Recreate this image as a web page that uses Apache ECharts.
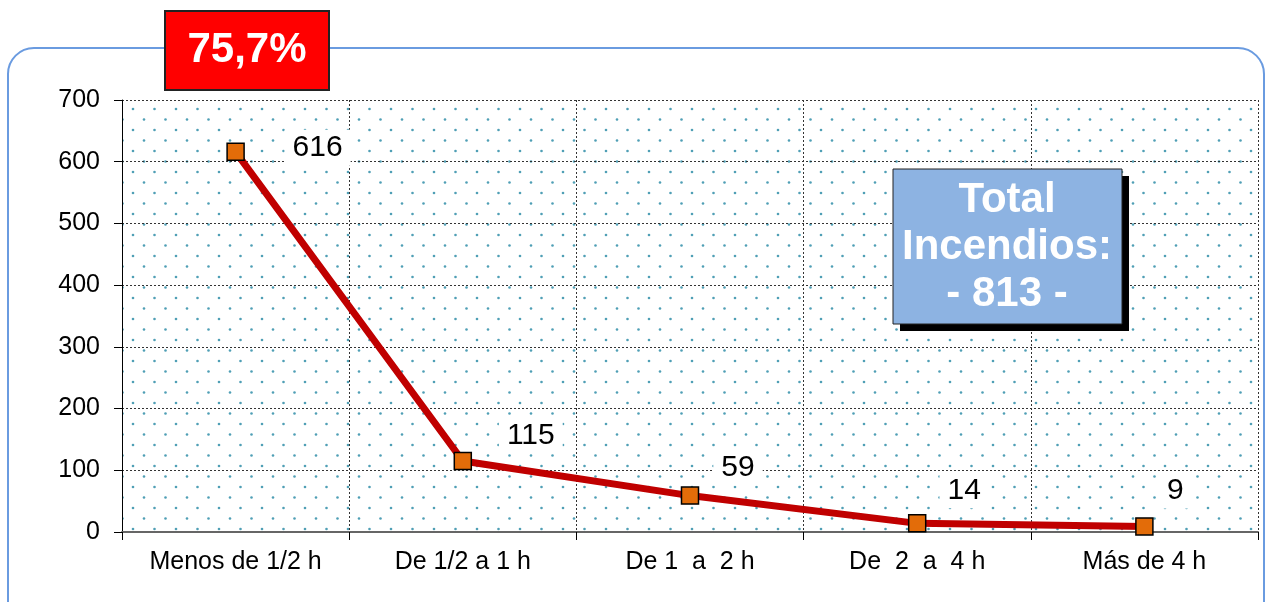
<!DOCTYPE html>
<html>
<head>
<meta charset="utf-8">
<script src="https://cdn.jsdelivr.net/npm/echarts@6/dist/echarts.min.js"></script>
<style>
  html, body { margin: 0; padding: 0; background: #fff; }
  #chart { width: 1266px; height: 602px; }
</style>
</head>
<body>
<div id="chart"></div>
<script>
// datos
const categories = ["Menos de 1/2 h", "De 1/2 a 1 h", "De 1  a  2 h", "De  2  a  4 h", "Más de 4 h"];
const incendios = [616, 115, 59, 14, 9];
const yTicks = [0, 100, 200, 300, 400, 500, 600, 700];
const badgeText = "75,7%";
const totalText = "Total\nIncendios:\n- 813 -";

// desplazamiento de cada etiqueta respecto al punto
const labelOffsets = [[82, -4], [68, -25], [48, -28], [47, -33], [31, -36]];

// patron de puntos del fondo
function dotPattern() {
  const c = document.createElement("canvas");
  c.width = 43;
  c.height = 21;
  const ctx = c.getContext("2d");
  ctx.fillStyle = "#fff";
  ctx.fillRect(0, 0, 43, 21);
  ctx.fillStyle = "#4f9fb5";
  const pts = [[4, 4], [25.5, 4], [15, 14.5], [36.5, 14.5]];
  pts.forEach(p => {
    ctx.beginPath();
    ctx.arc(p[0], p[1], 1.3, 0, Math.PI * 2);
    ctx.fill();
  });
  return c;
}

const chartDom = document.getElementById("chart");
const myChart = echarts.init(chartDom);

const font = "'Liberation Sans', Arial, sans-serif";

const option = {
  animation: false,
  textStyle: { fontFamily: font },
  grid: {
    left: 122, right: 8, top: 100, bottom: 70,
    show: true,
    borderWidth: 0,
    backgroundColor: { image: dotPattern(), repeat: "repeat" }
  },
  xAxis: {
    type: "category",
    data: categories,
    boundaryGap: true,
    axisLine: { lineStyle: { color: "#666", width: 2 } },
    axisTick: { show: true, length: 8, lineStyle: { color: "#000" } },
    axisLabel: { color: "#000", fontSize: 25, margin: 18, fontFamily: font },
    splitLine: { show: true, lineStyle: { color: "#333", type: [2, 2], width: 1 } }
  },
  yAxis: {
    type: "value",
    min: yTicks[0],
    max: yTicks[yTicks.length - 1],
    interval: 100,
    axisLine: { show: true, lineStyle: { color: "#000", width: 1 } },
    axisTick: { show: true, length: 8, lineStyle: { color: "#000" } },
    axisLabel: { color: "#000", fontSize: 25, margin: 22, fontFamily: font },
    splitLine: { show: true, lineStyle: { color: "#333", type: [2, 2], width: 1 } }
  },
  series: [{
    type: "line",
    data: incendios.map((v, i) => ({
      value: v,
      label: { offset: labelOffsets[i] }
    })),
    symbol: "rect",
    symbolSize: 17,
    lineStyle: { color: "#C00000", width: 7 },
    itemStyle: { color: "#E36C09", borderColor: "#000", borderWidth: 1.5 },
    z: 5,
    label: {
      show: true,
      position: "inside",
      color: "#000",
      fontSize: 30,
      fontFamily: font,
      backgroundColor: "#fff",
      padding: [3, 8]
    }
  }],
  graphic: [
    {
      type: "rect",
      z: -10,
      silent: true,
      shape: { x: 8, y: 48, width: 1256, height: 620, r: 26 },
      style: { fill: "none", stroke: "#6A9BE0", lineWidth: 2 }
    },
    {
      type: "rect",
      z: 10,
      shape: { x: 165, y: 11, width: 164, height: 79 },
      style: { fill: "#FF0000", stroke: "#222", lineWidth: 2 }
    },
    {
      type: "text",
      z: 11,
      x: 247, y: 50,
      style: {
        text: badgeText,
        fill: "#fff",
        font: "bold 42px " + font,
        align: "center",
        verticalAlign: "middle"
      }
    },
    {
      type: "rect",
      z: 10,
      shape: { x: 900, y: 176, width: 229, height: 155 },
      style: { fill: "#000" }
    },
    {
      type: "rect",
      z: 10,
      shape: { x: 893, y: 169, width: 229, height: 155 },
      style: { fill: "#8DB3E2", stroke: "#222", lineWidth: 1 }
    },
    {
      type: "text",
      z: 11,
      x: 1007, y: 247,
      style: {
        text: totalText,
        fill: "#fff",
        font: "bold 42px " + font,
        lineHeight: 47,
        align: "center",
        verticalAlign: "middle"
      }
    }
  ]
};

option && myChart.setOption(option);
</script>
</body>
</html>
